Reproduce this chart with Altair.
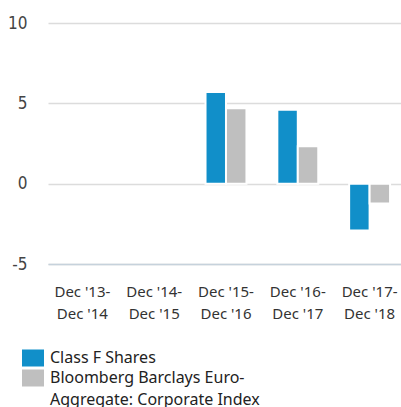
import altair as alt
import pandas as pd

# Calendar-year periods (two-line axis labels)
periods = [
    "Dec '13-\nDec '14",
    "Dec '14-\nDec '15",
    "Dec '15-\nDec '16",
    "Dec '16-\nDec '17",
    "Dec '17-\nDec '18",
]
# Annual returns (%); no figures before the share class launched
class_f = [None, None, 5.70, 4.60, -2.92]
benchmark = [None, None, 4.69, 2.33, -1.23]

series = ["Class F Shares", "Bloomberg Barclays Euro-\nAggregate: Corporate Index"]
colors = ["#118fc9", "#bfbfbf"]
y_ticks = [-5, 0, 5, 10]

rows = []
for p, a, b in zip(periods, class_f, benchmark):
    for s, v in zip(series, (a, b)):
        if v is not None:
            rows.append({"period": p, "series": s, "value": v})
df = pd.DataFrame(rows)

bars = alt.Chart(df).mark_bar(stroke="white", strokeWidth=2).encode(
    x=alt.X(
        "period:N",
        sort=periods,
        scale=alt.Scale(domain=periods, paddingInner=0.43, paddingOuter=0.173, align=0.56),
        axis=alt.Axis(
            title=None,
            labelAngle=0,
            labelExpr="split(datum.label, '\\n')",
            ticks=False,
            domainColor="#c6d2dc",
            domainWidth=1.5,
            labelPadding=20,
            labelBaseline="top",
            labelLineHeight=22,
            labelFont="Noto Sans",
            labelFontSize=15,
            labelColor="#333333",
        ),
    ),
    xOffset=alt.XOffset(
        "series:N",
        sort=series,
        scale=alt.Scale(domain=series, paddingInner=0, paddingOuter=0),
    ),
    y=alt.Y(
        "value:Q",
        scale=alt.Scale(domain=[-5, 10], nice=False, zero=False),
        axis=alt.Axis(
            values=y_ticks,
            title=None,
            domain=False,
            ticks=False,
            grid=True,
            gridColor="#dcdcdc",
            gridWidth=1.5,
            labelPadding=21,
            labelExpr="toString(datum.value)",
            labelFont="'DejaVu Sans Condensed', 'Liberation Sans', sans-serif",
            labelFontSize=17,
            labelColor="#444444",
        ),
    ),
    color=alt.Color(
        "series:N",
        sort=series,
        scale=alt.Scale(domain=series, range=colors),
        legend=alt.Legend(
            title=None,
            orient="none",
            legendX=-26,
            legendY=324,
            symbolType="M-1,-0.773H1V0.773H-1Z",
            symbolSize=484,
            symbolStrokeWidth=0,
            labelFont="Noto Sans",
            labelFontSize=16,
            labelOffset=6,
            labelBaseline="middle",
            labelColor="#222222",
            labelLimit=400,
            rowPadding=0,
            padding=0,
            labelExpr="split(datum.label, '\\n')",
        ),
    ),
)

chart = (
    bars.properties(
        width=353,
        height=241,
        padding={"left": 48, "top": 23, "right": 0, "bottom": 143},
        autosize=alt.AutoSizeParams(type="none"),
    )
    .configure(style={"guide-label": {"lineHeight": 21.7}})
    .configure_view(stroke=None)
)

chart.save("out.html", embed_options={"renderer": "svg", "actions": False})
